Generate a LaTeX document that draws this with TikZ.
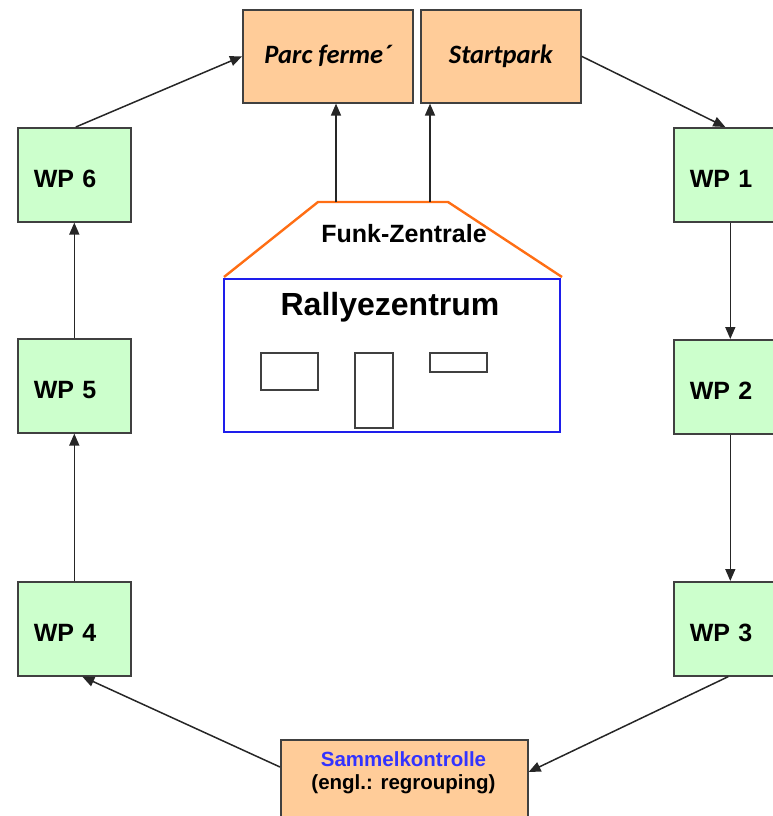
\documentclass[tikz,border=0pt]{standalone}
\usepackage{fontspec}
\setmainfont{Liberation Sans}
\newfontfamily\carlito{Carlito}
\usetikzlibrary{arrows.meta}
\definecolor{wpgreen}{RGB}{204,255,204}
\definecolor{boxorange}{RGB}{255,204,153}
\definecolor{edgegray}{RGB}{64,64,64}
\definecolor{roofor}{RGB}{255,110,20}
\definecolor{houseblue}{RGB}{30,30,235}
\definecolor{skblue}{RGB}{51,51,255}
\begin{document}
\begin{tikzpicture}[x=1pt,y=-1pt,
  wp/.style={draw=edgegray, fill=wpgreen, line width=1.6pt, anchor=north west,
    minimum width=113pt, minimum height=94pt, inner xsep=16pt, text width=81pt,
    align=left, text height=29pt, text depth=3pt, font=\fontsize{25}{28}\selectfont\bfseries},
  topbox/.style={draw=edgegray, fill=boxorange, line width=1.6pt, anchor=north west,
    minimum height=93pt, font=\carlito\fontsize{26.5}{30}\selectfont\bfseries\itshape},
  arr/.style={draw=black!85, line width=1.5pt, -{Triangle[length=12pt,width=10pt]}},
  win/.style={draw=black!75, line width=1.3pt}
]
\useasboundingbox (0,0) rectangle (773,816);
\clip (0,0) rectangle (773,816);

% top boxes
\node[topbox, minimum width=170pt] (pf) at (242,9) {Parc ferme´};
\node[topbox, minimum width=160pt] (sp) at (420,9) {Startpark};

% WP boxes
\node[wp] (wp6) at (17,127) {WP 6};
\node[wp] (wp5) at (17,338) {WP 5};
\node[wp] (wp4) at (17,581) {WP 4};
\node[wp] (wp1) at (673,127) {WP 1};
\node[wp] (wp2) at (673,339) {WP 2};
\node[wp] (wp3) at (673,581) {WP 3};

% Sammelkontrolle
\node[draw=edgegray, fill=boxorange, line width=1.6pt, anchor=north west,
  minimum width=247pt, minimum height=100pt] (sk) at (280,739) {};
\node[align=center, font=\fontsize{20.5}{23}\selectfont\bfseries] (sktext) at (403.5,773)
  {\textcolor{skblue}{Sammelkontrolle}\\(engl.: regrouping)};

% house
\draw[roofor, line width=2.4pt, line join=round] (224,277) -- (318,202) -- (448,202) -- (562,277);
\draw[houseblue, line width=2.8pt] (224,279) rectangle (560,432);
\draw[win] (261,353) rectangle (318,390);
\draw[win] (355,353) rectangle (393,428);
\draw[win] (430,353) rectangle (487,372);
\node[font=\fontsize{25}{28}\selectfont\bfseries] (funk) at (404,234) {Funk-Zentrale};
\node[font=\fontsize{32}{35}\selectfont\bfseries] (rz) at (390,307) {Rallyezentrum};

\coordinate (r1) at (336,202);
\coordinate (r2) at (430,202);

% connectors
\draw[arr] ([xshift=1.5pt]wp6.north) -- (pf.west);
\draw[arr] (sp.east) -- ([xshift=-5pt]wp1.north);
\draw[arr] (wp1.south) -- (wp2.north);
\draw[arr] (wp2.south) -- (wp3.north);
\draw[arr] ([xshift=-2pt]wp3.south) -- ([yshift=-33pt]sk.north east);
\draw[arr] ([yshift=-28pt]sk.north west) -- ([xshift=8pt]wp4.south);
\draw[arr] (wp4.north) -- (wp5.south);
\draw[arr] (wp5.north) -- (wp6.south);
\draw[arr] (r1) -- (r1 |- pf.south);
\draw[arr] (r2) -- (r2 |- sp.south);
\end{tikzpicture}
\end{document}
